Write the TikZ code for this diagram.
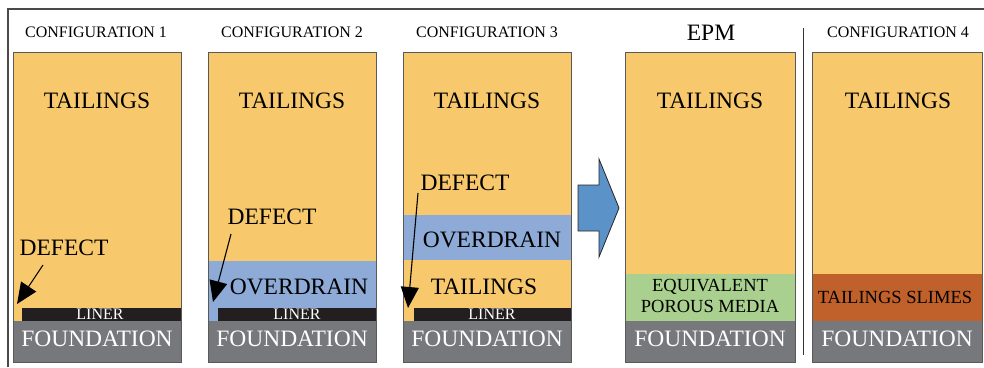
\documentclass[tikz,border=0pt]{standalone}
\usepackage{fontspec}
\setmainfont{Liberation Serif}
\usetikzlibrary{arrows.meta}
\definecolor{tail}{HTML}{F8C86C}
\definecolor{drain}{HTML}{8EAAD7}
\definecolor{found}{HTML}{77787B}
\definecolor{linerc}{HTML}{231F20}
\definecolor{epmc}{HTML}{A9D08E}
\definecolor{slime}{HTML}{C0602B}
\definecolor{arrowc}{HTML}{5B93C9}
\definecolor{framec}{HTML}{4A4A4A}
\tikzset{
  colborder/.style={draw=black!65, line width=0.9pt},
  big/.style={font=\fontsize{23.5}{26}\selectfont, inner sep=0pt},
  bigw/.style={big, text=white},
  title/.style={font=\fontsize{16}{18}\selectfont, inner sep=0pt},
  linerlbl/.style={font=\fontsize{16}{18}\selectfont, inner sep=0pt, text=white},
  mid/.style={font=\fontsize{18.5}{21}\selectfont, inner sep=0pt, align=center},
  defarrow/.style={draw=black, line width=1.1pt, -{Triangle[length=21pt,width=18pt]}}
}
\begin{document}
\begin{tikzpicture}[x=1pt,y=-1pt]
\useasboundingbox (0,0) rectangle (984,367);
% outer frame
\draw[framec, line width=1.3pt] (8,367) -- (8,9) -- (984,9);
% column 1
\fill[tail] (13,52) rectangle (181,321);
\fill[linerc] (22,308) rectangle (181,321);
\fill[found] (13,321) rectangle (181,362);
\draw[colborder] (13,52) rectangle (181,362);
% column 2
\fill[tail] (208,52) rectangle (376,261);
\fill[drain] (208,261) rectangle (376,321);
\fill[linerc] (218,308) rectangle (376,321);
\fill[found] (208,321) rectangle (376,362);
\draw[colborder] (208,52) rectangle (376,362);
% column 3
\fill[tail] (403,52) rectangle (571,215);
\fill[drain] (403,215) rectangle (571,260);
\fill[tail] (403,260) rectangle (571,321);
\fill[linerc] (414,308) rectangle (571,321);
\fill[found] (403,321) rectangle (571,362);
\draw[colborder] (403,52) rectangle (571,362);
% EPM column
\fill[tail] (625,52) rectangle (795,274);
\fill[epmc] (625,274) rectangle (795,321);
\fill[found] (625,321) rectangle (795,362);
\draw[colborder] (625,52) rectangle (795,362);
% column 4
\fill[tail] (812,52) rectangle (982,274);
\fill[slime] (812,274) rectangle (982,321);
\fill[found] (812,321) rectangle (982,362);
\draw[colborder] (812,52) rectangle (982,362);
% separator
\draw[black!80, line width=1pt] (803,28) -- (803,355);
% block arrow
\draw[fill=arrowc, draw=black!85, line width=0.8pt] (578,185) -- (599,185) -- (599,159) -- (619,208) -- (599,257) -- (599,231) -- (578,231) -- cycle;
% titles
\node[title] (t1) at (96,32) {CONFIGURATION 1};
\node[title] (t2) at (292,32) {CONFIGURATION 2};
\node[title] (t3) at (487,32) {CONFIGURATION 3};
\node[big] (t4) at (711,33) {EPM};
\node[title] (t5) at (898,32) {CONFIGURATION 4};
% tailings labels
\node[big] (ta1) at (97,101) {TAILINGS};
\node[big] (ta2) at (292,101) {TAILINGS};
\node[big] (ta3) at (487,101) {TAILINGS};
\node[big] (ta4) at (710,101) {TAILINGS};
\node[big] (ta5) at (898,101) {TAILINGS};
\node[big] (ta6) at (484,287) {TAILINGS};
% overdrain
\node[big] (od2) at (299,287) {OVERDRAIN};
\node[big] (od3) at (492,240) {OVERDRAIN};
% liner
\node[linerlbl] (l1) at (100,314) {LINER};
\node[linerlbl] (l2) at (297,314) {LINER};
\node[linerlbl] (l3) at (492,314) {LINER};
% foundation
\node[bigw] (f1) at (97,339) {FOUNDATION};
\node[bigw] (f2) at (292,339) {FOUNDATION};
\node[bigw] (f3) at (487,339) {FOUNDATION};
\node[bigw] (f4) at (710,339) {FOUNDATION};
\node[bigw] (f5) at (897,339) {FOUNDATION};
% epm / slimes
\node[mid] (epm) at (710,296) {EQUIVALENT\\POROUS MEDIA};
\node[mid] (sl) at (895,297) {TAILINGS SLIMES};
% defects
\node[big] (d1) at (64,248) {DEFECT};
\node[big] (d2) at (272,217) {DEFECT};
\node[big] (d3) at (465,183) {DEFECT};
\coordinate (s1) at (43,265); \coordinate (e1) at (17,304);
\coordinate (s2) at (231,234); \coordinate (e2) at (213,302);
\coordinate (s3) at (418,193); \coordinate (e3) at (408,308);
\draw[defarrow] (s1) -- (e1);
\draw[defarrow] (s2) -- (e2);
\draw[defarrow] (s3) -- (e3);
\end{tikzpicture}
\end{document}
